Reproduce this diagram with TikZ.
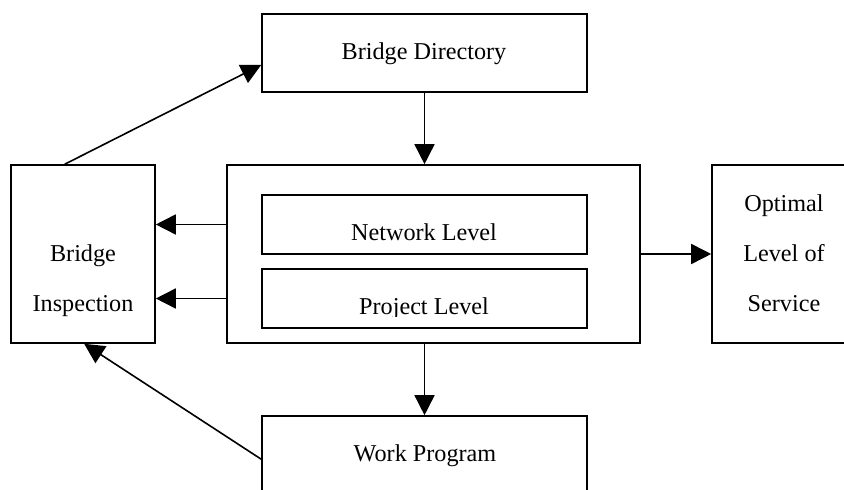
\documentclass[tikz,border=0pt]{standalone}
\usepackage{fontspec}
\setmainfont{Liberation Serif}
\usetikzlibrary{arrows.meta,calc}

\tikzset{
  box/.style={draw, line width=0.8pt, fill=white, inner sep=0pt},
  label text/.style={anchor=base, inner sep=0pt, font=\fontsize{12.1}{14}\selectfont},
  flow/.style={line width=0.8pt, -{Triangle[length=10pt,width=10pt]}}
}

\begin{document}
\begin{tikzpicture}[x=0.5pt, y=-0.5pt]
  \clip (0,0) rectangle (844,490);

  % boxes
  \node[box, minimum width=162.5pt, minimum height=39pt]   (dir) at (424.5,53)  {};
  \node[box, minimum width=72pt,    minimum height=89pt]   (ins) at (83,254)    {};
  \node[box, minimum width=206.5pt, minimum height=89pt]   (ctr) at (433.5,254) {};
  \node[box, minimum width=162.5pt, minimum height=29.5pt] (net) at (424.5,224.5) {};
  \node[box, minimum width=162.5pt, minimum height=29.5pt] (prj) at (424.5,298.5) {};
  \node[box, minimum width=84pt,    minimum height=89pt]   (opt) at (796,254)   {};
  \node[box, minimum width=162.5pt, minimum height=42pt]   (wrk) at (424.5,458) {};

  % labels
  \node[label text] (dirT)  at (424,60)  {Bridge Directory};
  \node[label text] (netT)  at (424,241) {Network Level};
  \begin{scope}
    \clip (262,269) rectangle (587,317);
    \node[label text] (prjT) at (424,315) {Project Level};
  \end{scope}
  \node[label text] (wrkT)  at (425,462) {Work Program};
  \node[label text] (insT1) at (83,262)  {Bridge};
  \node[label text] (insT2) at (83,312)  {Inspection};
  \node[label text] (optT1) at (784,212) {Optimal};
  \node[label text] (optT2) at (784,262) {Level of};
  \node[label text] (optT3) at (784,312) {Service};

  % connectors
  \draw[flow] ($(ins.north west)!0.375!(ins.north east)$) -- ($(dir.north west)!0.65!(dir.south west)$);
  \draw[flow] (dir.south) -- (dir.south |- ctr.north);
  \draw[flow] (ctr.west |- net.west) -- (ins.east |- net.west);
  \draw[flow] (ctr.west |- prj.west) -- (ins.east |- prj.west);
  \draw[flow] (ctr.east) -- (opt.west);
  \draw[flow] (wrk.north |- ctr.south) -- (wrk.north);
  \draw[flow] ($(wrk.north west)+(0,44)$) -- ($(ins.south west)+(74,0)$);
\end{tikzpicture}
\end{document}
